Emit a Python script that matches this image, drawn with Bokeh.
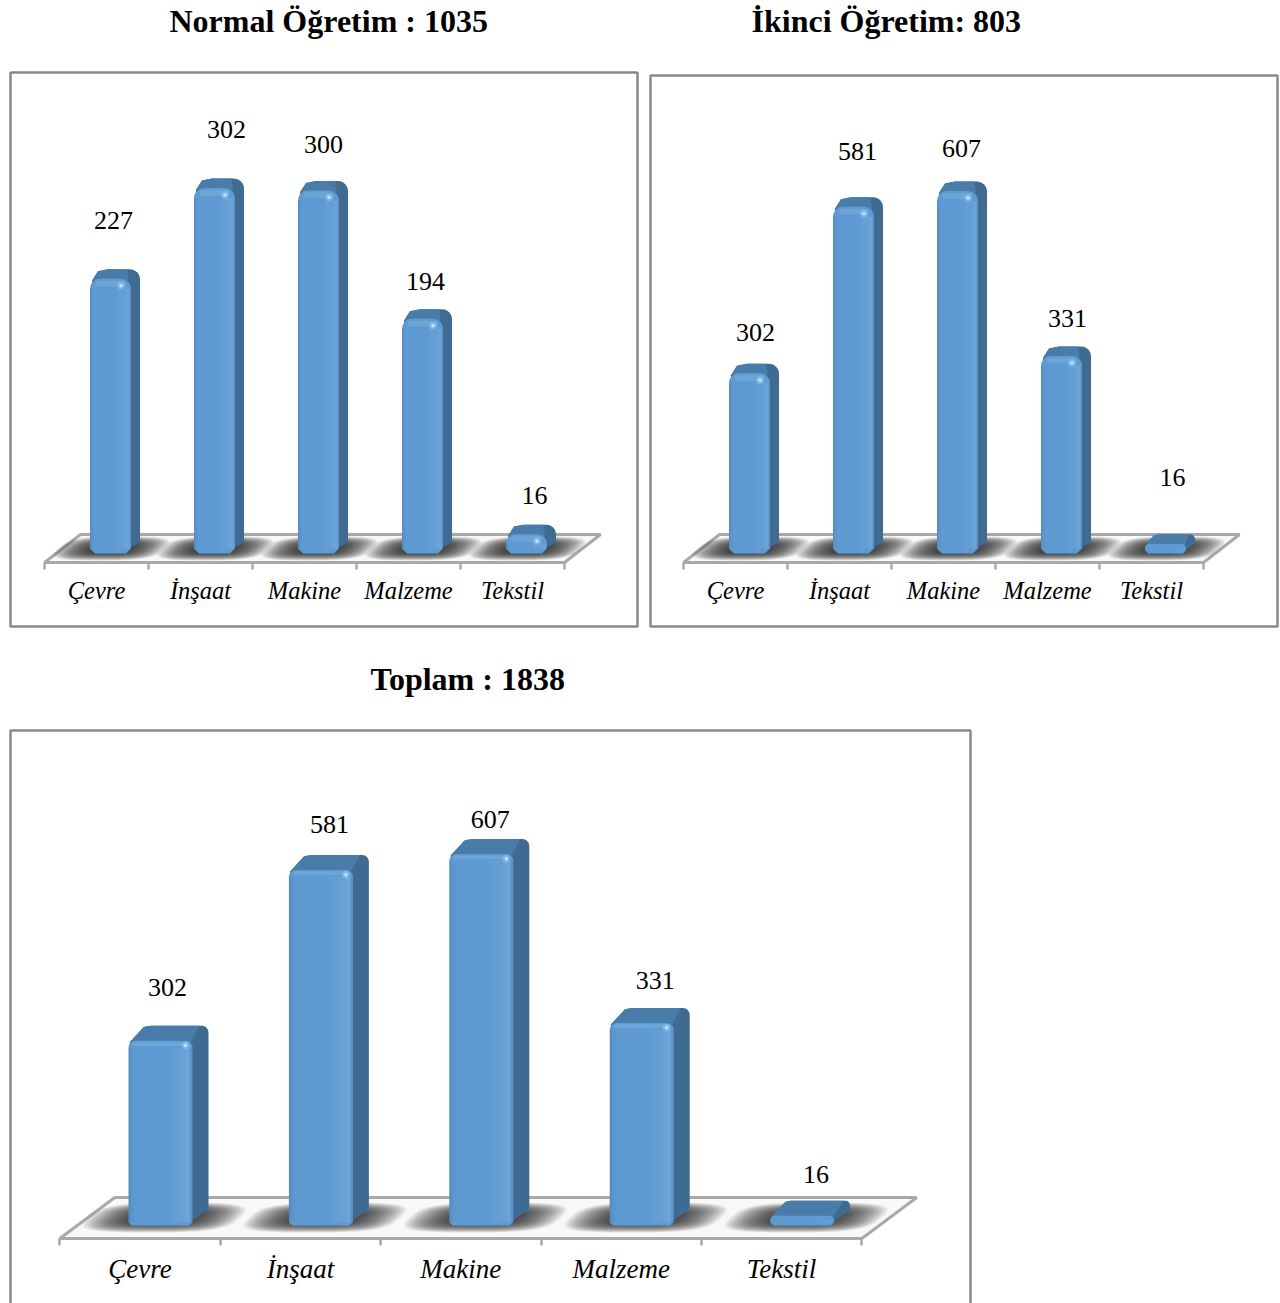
import math
from bokeh.core.properties import value
from bokeh.embed import file_html
from bokeh.layouts import column, row
from bokeh.models import ColumnDataSource, FixedTicker, LinearAxis, Range1d
from bokeh.plotting import figure
from bokeh.resources import INLINE

categories = ["Çevre", "İnşaat", "Makine", "Malzeme", "Tekstil"]
normal_values = [227, 302, 300, 194, 16]
evening_values = [302, 581, 607, 331, 16]
total_values = [302, 581, 607, 331, 16]

normal_title = "Normal Öğretim : 1035"
evening_title = "İkinci Öğretim: 803"
total_title = "Toplam : 1838"

FONT = "Liberation Serif"
FRAME = "#8a8a8a"
FLOOR = "#a9a9a9"


def rounded(x0, x1, y0, y1, rx, ry, bx, by):
    xs, ys = [x0, x0 + bx, x1 - bx, x1], [y0 + by, y0, y0, y0 + by]
    for k in range(7):
        a = math.pi / 2 * k / 6
        xs.append(x1 - rx + rx * math.cos(a))
        ys.append(y1 - ry + ry * math.sin(a))
    for k in range(7):
        a = math.pi / 2 + math.pi / 2 * k / 6
        xs.append(x0 + rx + rx * math.cos(a))
        ys.append(y1 - ry + ry * math.sin(a))
    return xs, ys


def panel(values, title, width, height, box, cx0, step, base, scale,
          bar_off, bar_w, depth_x, depth_y, radius, floor_low, floor_high, floor_shift,
          shadow_rx, shadow_ry, shadow_dx, shadow_dy, title_x, title_y, tick_len,
          label_px, value_px, label_gap, dx_labels, dy_labels):
    def X(a):
        return (a - cx0) / step

    def Y(a):
        return (base - a) / scale

    p = figure(width=width, height=height, output_backend="svg", toolbar_location=None,
               x_range=Range1d(X(0), X(width)), y_range=Range1d(Y(height), Y(0)),
               x_axis_type=None, y_axis_type=None,
               min_border_left=0, min_border_right=0, min_border_top=0, min_border_bottom=0)
    p.grid.visible = False
    p.outline_line_color = None
    p.background_fill_color = "white"
    p.border_fill_color = "white"

    # chart box
    p.quad(left=X(box[0]), right=X(box[1]), top=Y(box[2]), bottom=Y(box[3]),
           fill_color=None, line_color=FRAME, line_width=2.5)

    # heading
    p.text([X(title_x)], [Y(title_y)], text=[title], text_align="left", text_baseline="middle",
           text_color="black", text_font=value(FONT), text_font_size="32px", text_font_style="bold")

    px = 1.0 / step
    py = 1.0 / scale

    # floor
    fx = [-0.5, 4.5, 4.5 + floor_shift * px, -0.5 + floor_shift * px]
    fy = [-floor_low * py, -floor_low * py, floor_high * py, floor_high * py]
    p.patch(fx, fy, fill_color="#f8f8f8", line_color=FLOOR, line_width=3)

    # soft shadow on the floor
    skew = floor_shift / (floor_low + floor_high)
    layers = 26
    for layer in range(layers):
        f = 1.0 - 0.62 * layer / (layers - 1)
        xs_all, ys_all = [], []
        for i in range(len(values)):
            cx = i + (bar_off + shadow_dx) * px
            xs, ys = [], []
            for k in range(40):
                a = 2 * math.pi * k / 40
                ca, sa = math.cos(a), math.sin(a)
                ux = math.copysign(abs(ca) ** 0.6, ca) * shadow_rx * f
                uy = math.copysign(abs(sa) ** 0.6, sa) * shadow_ry * f
                xs.append(cx + (ux + uy * skew * 0.8) * px)
                ys.append((shadow_dy + uy) * py)
            xs_all.append(xs)
            ys_all.append(ys)
        p.patches(xs_all, ys_all, fill_color="#1c1c1c", fill_alpha=0.06, line_color=None)

    # bars
    for i, v in enumerate(values):
        xc = i + bar_off * px
        x0 = xc - bar_w / 2 * px
        x1 = xc + bar_w / 2 * px
        dx = depth_x * px
        dy = depth_y * py
        h_px = v * scale
        r = min(radius, h_px / 2)
        rx, ry = r * px, r * py
        rb = min(radius * 0.5, h_px / 3)
        # silhouette: right-hand side
        sx = [x0 + rx, x1 - rx, x1 + dx, x1 + dx]
        sy = [0, 0, dy + ry * 0.2, v + dy - ry]
        for k in range(1, 7):
            a = math.pi / 2 * k / 6
            sx.append(x1 + dx - rx + rx * math.cos(a))
            sy.append(v + dy - ry + ry * math.sin(a))
        sx += [x0 + dx + rx * 0.9, x0 + dx - rx * 0.1, x0 + rx * 0.2]
        sy += [v + dy, v + dy - ry * 0.2, v - ry * 0.2]
        p.patch(sx, sy, fill_color="#3f6b92", line_color=None)
        # top face
        p.patch([x0 + rx * 0.2, x0 + dx - rx * 0.1, x0 + dx + rx * 0.9, x1 + dx - rx * 1.3, x1 - rx * 0.2],
                [v - ry * 0.2, v + dy - ry * 0.2, v + dy, v + dy, v - ry * 0.2],
                fill_color="#4a7ca9", line_color=None)
        # front face
        fxs, fys = rounded(x0, x1, 0, v, rx, ry, rb * px, rb * py)
        p.patch(fxs, fys, fill_color="#5e9bd3", line_color=None)
        w = x1 - x0
        strip_bottom = rb * py
        strip_top = v - ry
        if strip_top > strip_bottom:
            for a_, b_, col, alp in ((0.0, 0.04, "black", 0.08), (0.04, 0.1, "black", 0.03),
                                     (0.66, 0.8, "white", 0.03), (0.8, 0.88, "white", 0.06),
                                     (0.88, 0.96, "white", 0.09), (0.96, 1.0, "black", 0.04)):
                p.quad(left=x0 + a_ * w, right=x0 + b_ * w, bottom=strip_bottom, top=strip_top,
                       fill_color=col, fill_alpha=alp, line_color=None)
        if h_px > 15:
            band = radius * 0.55 * py
            p.quad(left=x0 + rx * 0.6, right=x1 - rx * 0.6, top=v - ry * 0.2, bottom=v - ry * 0.2 - band,
                   fill_color="white", fill_alpha=0.10, line_color=None)
            sp_x = x1 - radius * 1.0 * px
            sp_y = v - radius * 0.7 * py
            p.scatter([sp_x], [sp_y], size=8, fill_color="#b4e4fa", fill_alpha=0.30, line_color=None)
            p.scatter([sp_x], [sp_y], size=3.5, fill_color="#c4ecfc", fill_alpha=0.9, line_color=None)

    # value labels
    src = ColumnDataSource(dict(
        x=[i + bar_off * px for i in range(len(values))],
        y=values,
        t=[str(v) for v in values],
        xo=dx_labels,
        yo=[-d for d in dy_labels],
    ))
    p.text("x", "y", text="t", source=src, x_offset="xo", y_offset="yo",
           text_align="center", text_baseline="middle", text_color="black",
           text_font=value(FONT), text_font_size=value_px)

    # category axis inside the frame
    axis = LinearAxis(fixed_location=-floor_low * py, bounds=(-0.5, 4.5))
    axis.ticker = FixedTicker(ticks=list(range(5)), minor_ticks=[k - 0.5 for k in range(6)])
    axis.major_label_overrides = {k: c for k, c in enumerate(categories)}
    axis.major_tick_in = 0
    axis.major_tick_out = 0
    axis.minor_tick_in = 0
    axis.minor_tick_out = tick_len
    axis.minor_tick_line_color = FLOOR
    axis.minor_tick_line_width = 2.5
    axis.axis_line_color = FLOOR
    axis.axis_line_width = 3
    axis.major_label_text_font = FONT
    axis.major_label_text_font_style = "italic"
    axis.major_label_text_font_size = label_px
    axis.major_label_text_color = "black"
    axis.major_label_standoff = label_gap
    p.add_layout(axis, "below")
    return p


p1 = panel(normal_values, normal_title, 644, 640, (10, 637, 72, 626), 96, 104, 553, 1.21,
           14, 41, 9, 9.5, 10, 9, 19, 36, 54, 12, 1, 5, 169, 20, 7,
           "24.5px", "26px", 7,
           [3, 12, 5, 3, 8], [58, 58.6, 46, 37, 38.6])
p2 = panel(evening_values, evening_title, 636, 640, (6, 633, 75, 626), 735 - 644, 104, 553, 0.597,
           14, 41, 9, 9.5, 10, 9, 19, 36, 54, 12, 1, 5, 107, 20, 7,
           "24.5px", "26px", 7,
           [6, 4, 4, 6, 7], [40.7, 55, 42.6, 37.4, 66.4])
p3 = panel(total_values, total_title, 1280, 663, (10, 970, 90, 690), 139.5, 160.4, 585, 0.612,
           20.5, 64, 16, 15, 7, 13, 28, 55, 76, 15, 4, 8, 370, 38, 7,
           "27px", "26px", 8,
           [7, 8.5, 9, 13.5, 14], [53, 45.4, 34.5, 42.4, 41.2])

page = column(row(p1, p2, spacing=0), p3, spacing=0)
open("out.html", "w").write(file_html(page, INLINE))
